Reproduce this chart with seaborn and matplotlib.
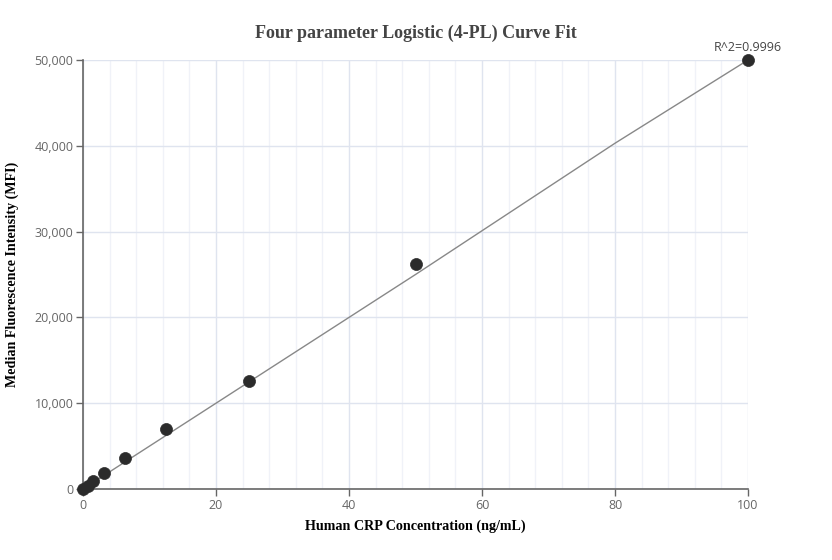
import numpy as np
import pandas as pd
import matplotlib
matplotlib.use("Agg")
import matplotlib.pyplot as plt
import seaborn as sns
from matplotlib.ticker import MultipleLocator, FuncFormatter

# standard points
conc = [0, 0.78, 1.56, 3.125, 6.25, 12.5, 25, 50, 100]
mfi = [0, 380, 950, 1850, 3620, 7050, 12600, 26200, 50000]

# fitted curve
curve_x = [0, 20, 50, 80, 100]
curve_y = [0, 10000, 25000, 40300, 50000]

r2_text = "R^2=0.9996"

sns.set_theme(style="white")
plt.rcParams['font.family'] = ['Open Sans', 'DejaVu Sans']

fig = plt.figure(figsize=(8.32, 5.6), dpi=100)
ax = fig.add_axes([0.0998, 0.1268, 0.7993, 0.7661])

pts = pd.DataFrame({'conc': conc, 'mfi': mfi})
fit = pd.DataFrame({'x': curve_x, 'y': curve_y})

sns.lineplot(data=fit, x='x', y='y', ax=ax, color='#888888', linewidth=1.0, zorder=3)
sns.scatterplot(data=pts, x='conc', y='mfi', ax=ax, color='#2b2b2b', s=75,
                edgecolor='#2b2b2b', linewidth=0.5, zorder=4, clip_on=False)

ax.set_xlim(0, 100)
ax.set_ylim(0, 50000)
ax.xaxis.set_major_locator(MultipleLocator(20))
ax.xaxis.set_minor_locator(MultipleLocator(4))
ax.yaxis.set_major_locator(MultipleLocator(10000))
ax.yaxis.set_major_formatter(FuncFormatter(lambda v, p: f"{int(v):,}"))

ax.grid(which='major', axis='both', color='#dfe4ef', linewidth=1.0)
ax.grid(which='minor', axis='x', color='#f0f2f8', linewidth=1.0)
ax.set_axisbelow(True)

for s in ['top', 'right']:
    ax.spines[s].set_visible(False)
for s in ['left', 'bottom']:
    ax.spines[s].set_color('#666666')
    ax.spines[s].set_linewidth(1.2)

ax.tick_params(axis='y', which='major', left=True, length=5, width=1, color='#666666',
               labelsize=9, labelcolor='#666666', pad=2)
ax.tick_params(axis='x', which='major', bottom=True, length=5, width=1, color='#666666',
               labelsize=9, labelcolor='#666666', pad=2)
ax.tick_params(axis='x', which='minor', bottom=False)

serif = ['Liberation Serif', 'DejaVu Serif']
ax.set_xlabel("Human CRP Concentration (ng/mL)", family=serif, fontweight='bold',
              fontsize=10.2, color='black', labelpad=5.5)
ax.set_ylabel("Median Fluorescence Intensity (MFI)", family=serif, fontweight='bold',
              fontsize=10.2, color='black', labelpad=11)
fig.text(0.5, 0.94, "Four parameter Logistic (4-PL) Curve Fit", family=serif,
         fontweight='bold', fontsize=13, color='#444444', ha='center', va='center')

ax.annotate(r2_text, xy=(conc[-1], mfi[-1]), xytext=(0, 4), textcoords='offset points',
            ha='center', va='bottom', fontsize=9, color='#444444', annotation_clip=False)

fig.savefig("out.png", dpi=100)
